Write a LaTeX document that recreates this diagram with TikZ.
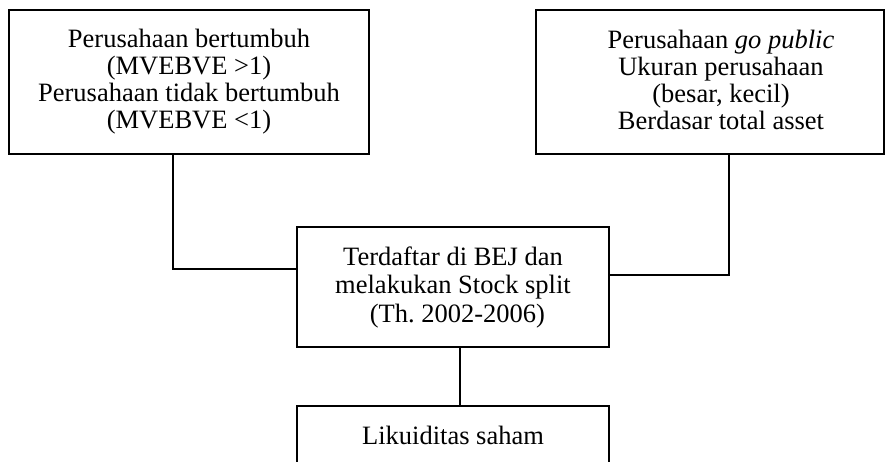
\documentclass[tikz,border=0pt]{standalone}
\usepackage{fontspec}
\setmainfont{Liberation Serif}

\begin{document}
\begin{tikzpicture}[x=1pt,y=-1pt,line width=1.6pt,
  box/.style={draw,align=center,inner sep=0pt,font=\fontsize{26.5}{27}\selectfont},
  txt/.style={align=center,inner sep=0pt,font=\fontsize{26.5}{27}\selectfont}]
\useasboundingbox (0,0) rectangle (886,461);
\clip (0,0) rectangle (886,461);

\node[box,minimum width=360,minimum height=144] (1) at (189,82) {Perusahaan bertumbuh\\(MVEBVE >1)\\Perusahaan tidak bertumbuh\\(MVEBVE <1)};
\node[box,minimum width=348,minimum height=144] (2) at (710,82) {};
\node[txt] (2t) at (721,80) {Perusahaan \textit{go public}\\Ukuran perusahaan\\(besar, kecil)\\Berdasar total asset};
\node[box,minimum width=312,minimum height=120,font=\fontsize{26.5}{28.5}\selectfont] (3) at (453,287) {Terdaftar di BEJ dan\\melakukan Stock split\\\hspace*{9pt}(Th.\ 2002-2006)};
\node[box,minimum width=312,minimum height=60,anchor=north] (4) at (453,405) {Likuiditas saham};

\draw ([xshift=-16pt]1.south) |- ([yshift=18pt]3.west);
\draw ([xshift=19pt]2.south) |- ([yshift=12pt]3.east);
\draw ([xshift=7pt]3.south) -- ([xshift=7pt]4.north);
\end{tikzpicture}
\end{document}
